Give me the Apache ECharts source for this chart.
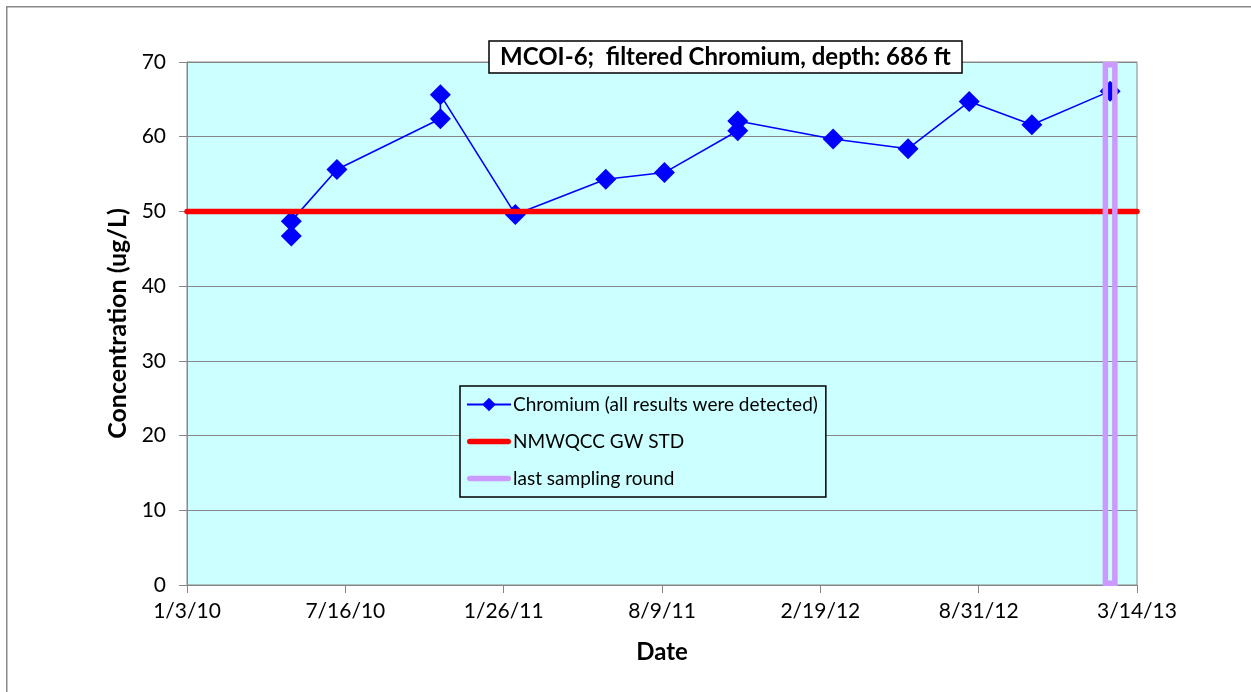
<!DOCTYPE html>
<html>
<head>
<meta charset="utf-8">
<script src="https://cdn.jsdelivr.net/npm/echarts@6/dist/echarts.min.js"></script>
<style>
  html, body { margin: 0; padding: 0; background: #fff; }
  #chart { width: 1251px; height: 692px; }
</style>
</head>
<body>
<div id="chart"></div>
<script>
// sampling dates and filtered chromium results (ug/L)
var fechas = ["2010-05-11", "2010-05-11", "2010-07-06", "2010-11-10", "2010-11-10",
  "2011-02-10", "2011-06-01", "2011-08-12", "2011-11-10", "2011-11-10",
  "2012-03-06", "2012-06-06", "2012-08-20", "2012-11-05", "2013-02-09"];
var cromo = [46.7, 48.7, 55.6, 62.4, 65.6, 49.6, 54.3, 55.2, 60.8, 62.1,
  59.7, 58.4, 64.7, 61.6, 66.1];
var estandar = 50;             // NMWQCC GW STD
var ultimaRonda = "2013-02-09"; // last sampling round
var ejeInicio = "2010-01-03";
var ejeFin = "2013-03-14";
var nTicks = 6;

var FONT = "Lato";
var DIA = 86400000;

function dias(f) {
  var p = f.split("-");
  var base = ejeInicio.split("-");
  return (Date.UTC(+p[0], +p[1] - 1, +p[2]) - Date.UTC(+base[0], +base[1] - 1, +base[2])) / DIA;
}
function etiqueta(v) {
  var b = ejeInicio.split("-");
  var d = new Date(Date.UTC(+b[0], +b[1] - 1, +b[2]) + Math.floor(v + 0.001) * DIA);
  return (d.getUTCMonth() + 1) + "/" + d.getUTCDate() + "/" + String(d.getUTCFullYear()).slice(2);
}

var xMax = dias(ejeFin);
var datosCromo = fechas.map(function (f, i) { return [dias(f), cromo[i]]; });

// thick line legend icon (tiny sub-paths keep the 44x17 box)
var iconoLinea = "path://M0,0L44,0L44,0.01Z M2.75,5.75H41.25A2.75,2.75 0 0 1 41.25,11.25H2.75A2.75,2.75 0 0 1 2.75,5.75Z M0,17L44,17L44,17.01Z";

var myChart = echarts.init(document.getElementById("chart"));

var option = {
  backgroundColor: "#fff",
  animation: false,
  graphic: [{
    type: "rect",
    shape: { x: 6.75, y: 6.75, width: 1300, height: 700 },
    style: { fill: "none", stroke: "#8a8a8a", lineWidth: 1.5 },
    silent: true
  }],
  title: {
    text: "MCOI-6;  filtered Chromium, depth: 686 ft",
    left: 489,
    top: 41,
    padding: [4, 12, 4, 11],
    backgroundColor: "#fff",
    borderColor: "#000",
    borderWidth: 1.5,
    textStyle: { fontFamily: FONT, fontWeight: "bold", fontSize: 24, color: "#000" }
  },
  grid: {
    left: 187, top: 62, width: 950, height: 523,
    show: true, backgroundColor: "#CCFFFF", borderColor: "#868686", borderWidth: 1
  },
  legend: {
    orient: "vertical",
    left: 460, top: 386,
    padding: [9, 8, 9, 6],
    itemGap: 18,
    itemWidth: 44,
    itemHeight: 17,
    backgroundColor: "#CCFFFF",
    borderColor: "#000",
    borderWidth: 1.5,
    borderRadius: 0,
    textStyle: { fontFamily: FONT, fontSize: 19, color: "#000", padding: [0, 0, 0, -3] },
    data: [
      { name: "Chromium (all results were detected)" },
      { name: "NMWQCC GW STD", icon: iconoLinea },
      { name: "last sampling round", icon: iconoLinea }
    ]
  },
  xAxis: {
    type: "value",
    min: 0, max: xMax, interval: xMax / nTicks,
    name: "Date", nameLocation: "middle", nameGap: 55,
    nameTextStyle: { fontFamily: FONT, fontWeight: "bold", fontSize: 24, color: "#000" },
    axisLine: { show: true, lineStyle: { color: "#868686", width: 1 } },
    axisTick: { show: true, length: 8, lineStyle: { color: "#868686" } },
    axisLabel: { fontFamily: FONT, fontSize: 21, color: "#000", margin: 16, formatter: etiqueta },
    splitLine: { show: false }
  },
  yAxis: {
    type: "value",
    min: 0, max: 70, interval: 10,
    name: "Concentration (ug/L)", nameLocation: "middle", nameGap: 55,
    nameTextStyle: { fontFamily: FONT, fontWeight: "bold", fontSize: 25, color: "#000" },
    axisLine: { show: true, lineStyle: { color: "#868686", width: 1 } },
    axisTick: { show: true, length: 8, lineStyle: { color: "#868686" } },
    axisLabel: { fontFamily: FONT, fontSize: 21, color: "#000", margin: 21 },
    splitLine: { show: true, lineStyle: { color: "#868686", width: 1 } }
  },
  series: [
    {
      name: "Chromium (all results were detected)",
      type: "line",
      data: datosCromo,
      symbol: "diamond",
      symbolSize: 21,
      itemStyle: { color: "#0000FF" },
      lineStyle: { color: "#0000FF", width: 1.6 },
      z: 2
    },
    {
      name: "NMWQCC GW STD",
      type: "line",
      data: [[0, estandar], [xMax, estandar]],
      symbol: "none",
      itemStyle: { color: "#FF0000" },
      lineStyle: { color: "#FF0000", width: 5.5, cap: "round" },
      z: 3
    },
    {
      // only for the legend entry
      name: "last sampling round",
      type: "line",
      data: [],
      symbol: "none",
      itemStyle: { color: "#CC99FF" },
      lineStyle: { color: "#CC99FF", width: 5.5, cap: "round" }
    },
    {
      type: "custom",
      silent: true,
      z: 4,
      data: [[dias(ultimaRonda)]],
      renderItem: function (params, api) {
        var arriba = api.coord([api.value(0), 70]);
        var abajo = api.coord([api.value(0), 0]);
        var x = arriba[0];
        return {
          type: "rect",
          shape: { x: x - 4.75, y: arriba[1] + 2.75, width: 9.5, height: abajo[1] - arriba[1] - 4.5 },
          style: { fill: "none", stroke: "#CC99FF", lineWidth: 5.5 }
        };
      }
    }
  ]
};

myChart.setOption(option);
</script>
</body>
</html>
